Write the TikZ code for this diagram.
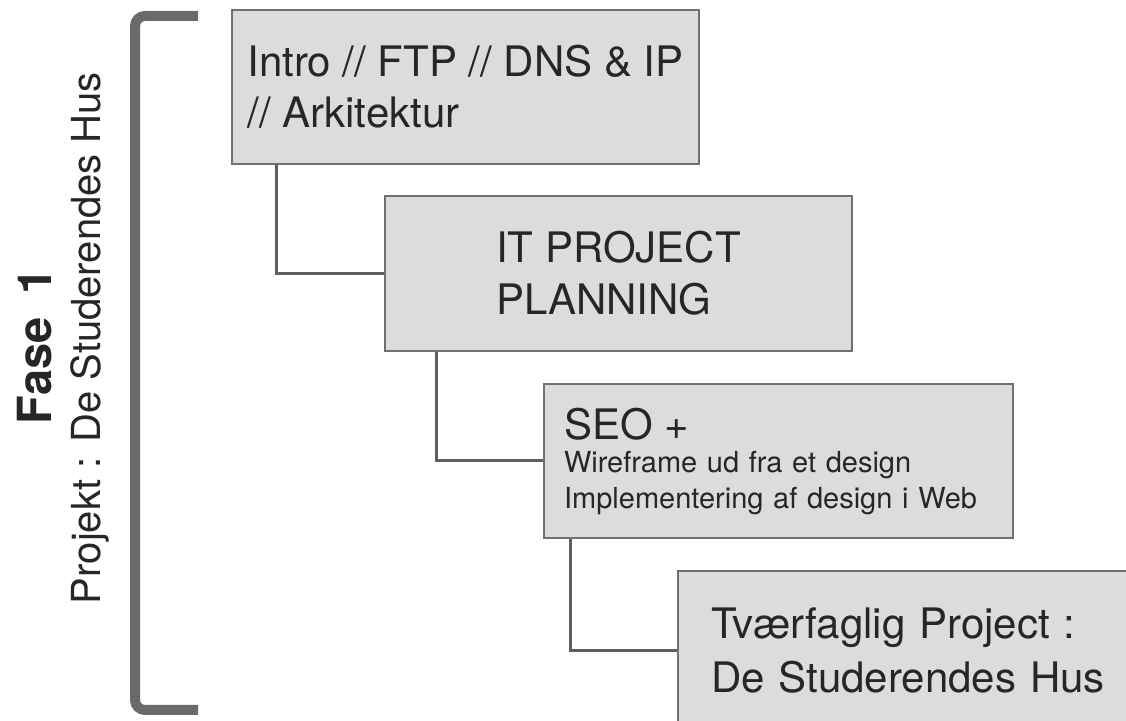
\documentclass[tikz,border=0pt]{standalone}
\usepackage{fontspec}
\setmainfont{TeX Gyre Heros}
\definecolor{boxfill}{HTML}{DCDCDC}
\definecolor{boxline}{HTML}{707070}
\definecolor{linkline}{HTML}{5E5E5E}
\definecolor{bracketline}{HTML}{6A6A6A}
\definecolor{ink}{HTML}{262626}
\begin{document}
\begin{tikzpicture}
        [x=0.5pt,y=-0.5pt,
         stage/.style={draw=boxline,fill=boxfill,line width=1pt,anchor=north west,
           minimum height=77pt,inner ysep=0pt,text=ink,align=left,
           font=\fontsize{21}{25.5}\selectfont},
         link/.style={draw=linkline,line width=1.5pt},
         side/.style={rotate=90,anchor=base,text=ink}]
        \useasboundingbox (0,0) rectangle (1126,721);
        \clip (0,0) rectangle (1126,721);

        \draw[bracketline,line width=5pt,rounded corners=5pt] (198,16) -- (135,16) -- (135,710) -- (198,710);
        \node[side,font=\bfseries\fontsize{23.5}{28}\selectfont] (fase) at (52,346) {Fase\hspace{0.5em}1};
        \node[side,font=\fontsize{20}{24}\selectfont] (projekt) at (100,338) {Projekt : De Studerendes Hus};

        \node[stage,minimum width=233.5pt] (intro) at (231,9) {Intro // FTP // DNS \& IP\\// Arkitektur};
        \node[stage,minimum width=233.5pt,minimum height=77.5pt,font=\fontsize{21}{26}\selectfont] (planning) at (384,195) {IT PROJECT\\PLANNING};
        \node[stage,text width=214.5pt,inner xsep=10pt,font=\fontsize{14.5}{18}\selectfont] (seo) at (543,383)
          {{\fontsize{21}{25.5}\selectfont\spaceskip=0pt SEO +}\\[-1.5pt]Wireframe ud fra et design\\Implementering af design i Web};
        \node[stage,text width=203.5pt,inner xsep=16.5pt,minimum height=80pt,font=\fontsize{21}{27}\selectfont] (tvaer) at (677,570)
          {Tværfaglig Project :\\De Studerendes Hus};

        \foreach \a/\b/\d in {intro/planning/45,planning/seo/52,seo/tvaer/27}
        {\draw[link] (\a.south west) ++(\d,0) |- (\b.west);}
      \end{tikzpicture}
\end{document}
